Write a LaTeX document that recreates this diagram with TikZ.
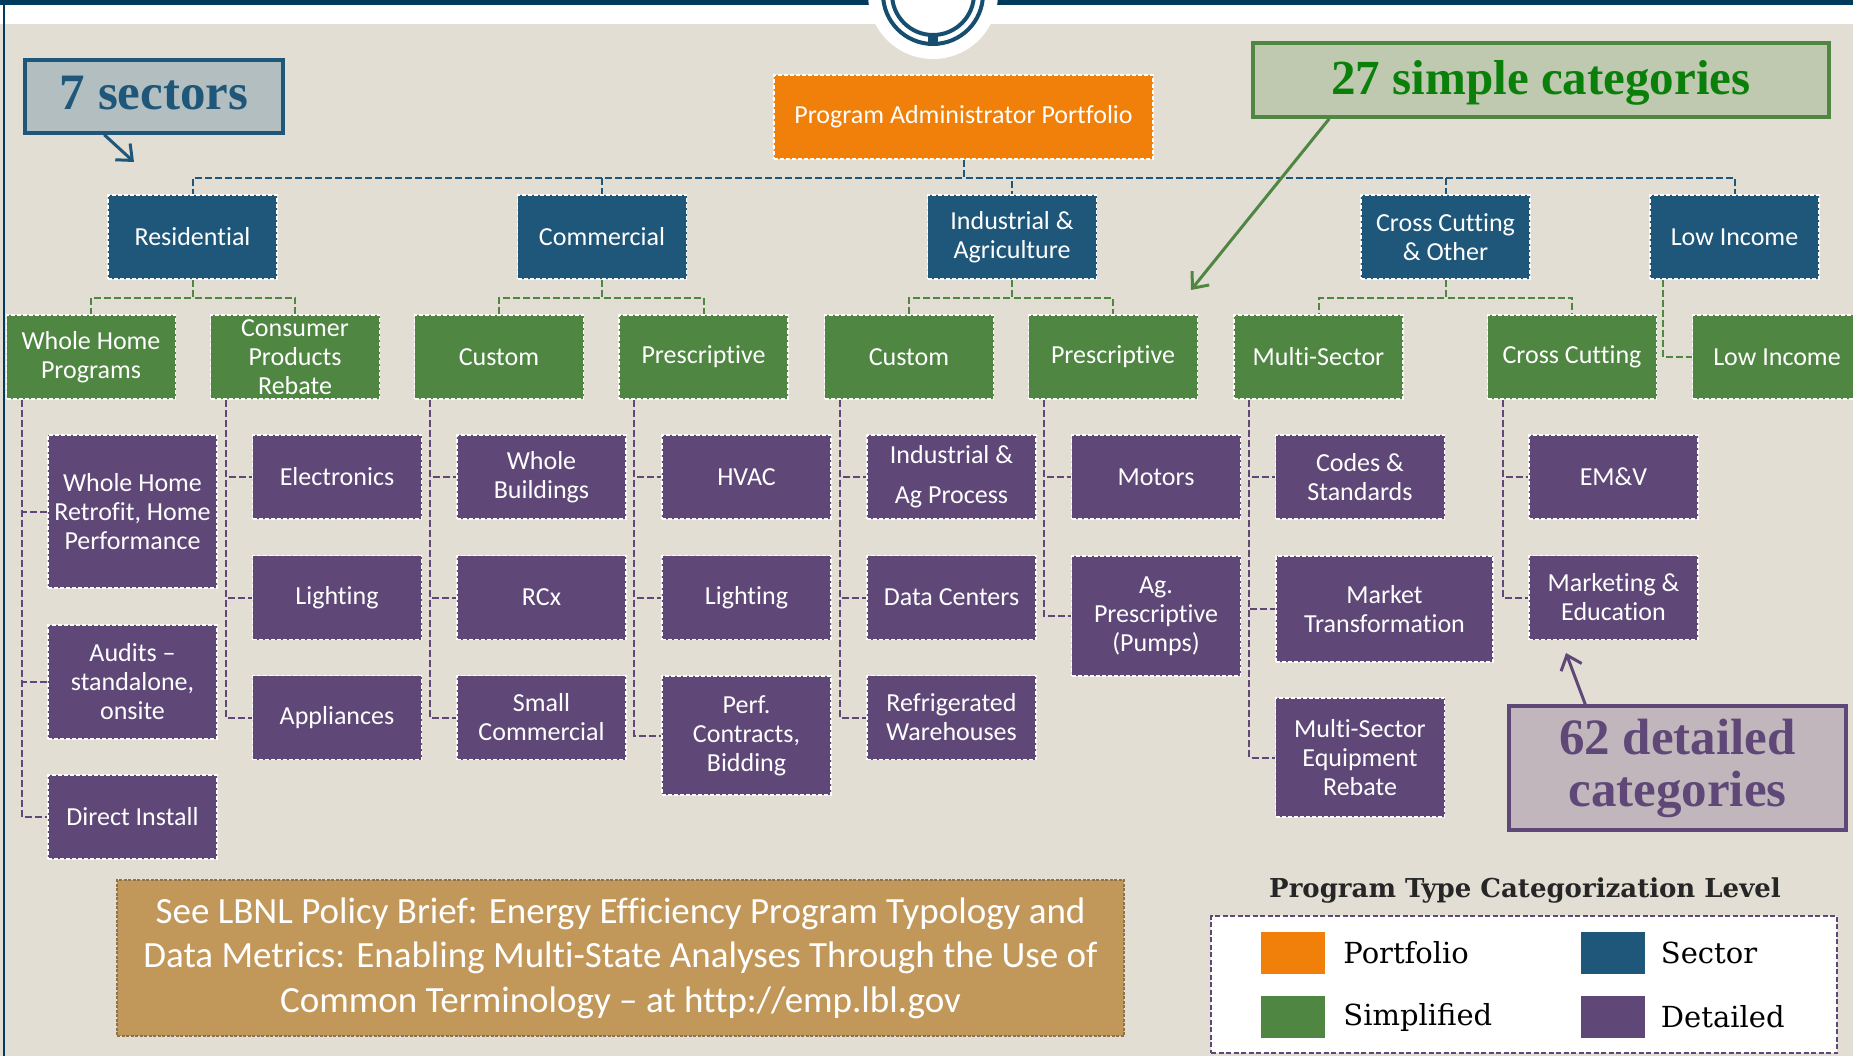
\documentclass[tikz,border=0pt]{standalone}
\usepackage{fontspec}
\newfontfamily\boxfont[Ligatures=NoCommon]{Carlito}
\newfontfamily\headfont{DejaVu Serif}
\newfontfamily\callfont{Liberation Serif}
\usetikzlibrary{arrows.meta,positioning}

\definecolor{bgbeige}{RGB}{227,222,211}
\definecolor{navy}{RGB}{0,58,92}
\definecolor{ringblue}{RGB}{22,78,112}
\definecolor{portorange}{RGB}{240,128,10}
\definecolor{secblue}{RGB}{30,87,122}
\definecolor{simgreen}{RGB}{79,134,65}
\definecolor{detpurple}{RGB}{95,72,120}
\definecolor{brieftan}{RGB}{194,151,90}
\definecolor{briefedge}{RGB}{140,115,75}
\definecolor{sectfill}{RGB}{178,190,191}
\definecolor{simfill}{RGB}{190,201,175}
\definecolor{simtext}{RGB}{10,128,10}
\definecolor{detfill}{RGB}{193,182,188}
\definecolor{titletext}{RGB}{38,38,38}

\begin{document}
\begin{tikzpicture}
            [x=1pt, y=-1pt,
            box/.style={rectangle, draw=white, line width=1.6pt, dash pattern=on 4pt off 2pt,
              text=white, align=center, inner sep=0pt, minimum width=169pt, minimum height=84pt,
              font=\boxfont\fontsize{26}{29}\selectfont},
            port/.style={box, fill=portorange},
            sector/.style={box, fill=secblue},
            simple/.style={box, fill=simgreen},
            detail/.style={box, fill=detpurple},
            busline/.style={secblue, line width=2pt, dash pattern=on 7pt off 3pt},
            simline/.style={simgreen, line width=2pt, dash pattern=on 7pt off 3pt},
            detline/.style={detpurple, line width=2pt, dash pattern=on 7pt off 3pt},
            callout/.style={rectangle, line width=3.5pt, inner sep=0pt, align=center,
              font=\callfont\bfseries\fontsize{51}{52}\selectfont},
            callarrow/.style={line width=3pt, -{Straight Barb[length=13pt,width=22pt]}},
            swatch/.style={rectangle, minimum width=64pt, minimum height=42pt, inner sep=0pt},
            legtext/.style={inner sep=0pt, text=black, font=\headfont\fontsize{29}{32}\selectfont}]

            \useasboundingbox (0,0) rectangle (1853,1056);
            \clip (0,0) rectangle (1853,1056);

            % Page background and header
            \fill[bgbeige] (0,0) rectangle (1853,1056);
            \fill[white] (0,0) rectangle (1853,24);
            \fill[navy] (0,0) rectangle (1853,5);
            \draw[navy, line width=2pt] (4,5) -- (4,1056);
            \fill[white] (933,-6) circle (65pt);
            \draw[ringblue, line width=4pt] (933,-6) circle (50pt) (933,-6) circle (41pt);
            \fill[ringblue] (928,33) rectangle (938,45);

            % Portfolio and sectors
            \node[port, minimum width=379pt] (pap) at (963.5,117) {Program Administrator Portfolio};
            \node[sector] (res) at (192.5,237) {Residential};
            \node[sector] (com) at (602,237) {Commercial};
            \node[sector] (ind) at (1012,237) {Industrial \&\\Agriculture};
            \node[sector] (cco) at (1445.5,237) {Cross Cutting\\\& Other};
            \node[sector] (lis) at (1734.5,237) {Low Income};

            % Simplified categories
            \node[simple] (whp) at (91,357) {Whole Home\\Programs};
            \node[simple] (cpr) at (295,357) {Consumer\\Products\\Rebate};
            \node[simple] (ccu) at (499,357) {Custom};
            \node[simple] (cpe) at (703.5,357) {Prescriptive};
            \node[simple] (icu) at (909,357) {Custom};
            \node[simple] (ipe) at (1113,357) {Prescriptive};
            \node[simple] (msc) at (1318.5,357) {Multi-Sector};
            \node[simple] (ccs) at (1572,357) {Cross Cutting};
            \node[simple] (lin) at (1777,357) {Low Income};

            % Detailed categories
            \node[detail, minimum height=153pt] (whr) at (132.5,511.5) {Whole Home\\Retrofit, Home\\Performance};
            \node[detail, minimum height=114pt] (aud) at (132.5,682) {Audits –\\standalone,\\onsite};
            \node[detail] (dir) at (132.5,817) {Direct Install};
            \node[detail] (ele) at (337,477) {Electronics};
            \node[detail] (rli) at (337,597.5) {Lighting};
            \node[detail] (app) at (337,717.5) {Appliances};
            \node[detail] (whb) at (541.5,477) {Whole\\Buildings};
            \node[detail] (rcx) at (541.5,597.5) {RCx};
            \node[detail] (smc) at (541.5,717.5) {Small\\Commercial};
            \node[detail] (hva) at (746.5,477) {HVAC};
            \node[detail] (cli) at (746.5,597.5) {Lighting};
            \node[detail, minimum height=119pt] (prf) at (746.5,735.5) {Perf.\\Contracts,\\Bidding};
            \node[detail] (iap) at (951.5,477) {Industrial \&\\[11pt]Ag Process};
            \node[detail] (dat) at (951.5,597.5) {Data Centers};
            \node[detail] (ref) at (951.5,717.5) {Refrigerated\\Warehouses};
            \node[detail] (mot) at (1156,477) {Motors};
            \node[detail, minimum height=120pt] (agp) at (1156,616) {Ag.\\Prescriptive\\(Pumps)};
            \node[detail] (cod) at (1360,477) {Codes \&\\Standards};
            \node[detail, minimum width=217pt, minimum height=106pt] (mkt) at (1384.5,609) {Market\\Transformation};
            \node[detail, minimum height=119pt] (mse) at (1360,757.5) {Multi-Sector\\Equipment\\Rebate};
            \node[detail] (emv) at (1613.5,477) {EM\&V};
            \node[detail] (mae) at (1613.5,597.5) {Marketing \&\\Education};

            % Portfolio to sectors
            \draw[busline] (pap.south) -- ++(0,18) -| (res.north);
            \draw[busline] (pap.south) -- ++(0,18) -| (com.north);
            \draw[busline] (pap.south) -- ++(0,18) -| (ind.north);
            \draw[busline] (pap.south) -- ++(0,18) -| (cco.north);
            \draw[busline] (pap.south) -- ++(0,18) -| (lis.north);

            % Sectors to simplified
            \draw[simline] (res.south) -- ++(0,18) -| (whp.north);
            \draw[simline] (res.south) -- ++(0,18) -| (cpr.north);
            \draw[simline] (com.south) -- ++(0,18) -| (ccu.north);
            \draw[simline] (com.south) -- ++(0,18) -| (cpe.north);
            \draw[simline] (ind.south) -- ++(0,18) -| (icu.north);
            \draw[simline] (ind.south) -- ++(0,18) -| (ipe.north);
            \draw[simline] (cco.south) -- ++(0,18) -| (msc.north);
            \draw[simline] (cco.south) -- ++(0,18) -| (ccs.north);
            \draw[simline] ([xshift=14pt]lis.south west) |- (lin.west);

            % Simplified to detailed
            \draw[detline] ([xshift=16pt]whp.south west) |- (whr.west);
            \draw[detline] ([xshift=16pt]whp.south west) |- (aud.west);
            \draw[detline] ([xshift=16pt]whp.south west) |- (dir.west);
            \draw[detline] ([xshift=16pt]cpr.south west) |- (ele.west);
            \draw[detline] ([xshift=16pt]cpr.south west) |- (rli.west);
            \draw[detline] ([xshift=16pt]cpr.south west) |- (app.west);
            \draw[detline] ([xshift=16pt]ccu.south west) |- (whb.west);
            \draw[detline] ([xshift=16pt]ccu.south west) |- (rcx.west);
            \draw[detline] ([xshift=16pt]ccu.south west) |- (smc.west);
            \draw[detline] ([xshift=16pt]cpe.south west) |- (hva.west);
            \draw[detline] ([xshift=16pt]cpe.south west) |- (cli.west);
            \draw[detline] ([xshift=16pt]cpe.south west) |- (prf.west);
            \draw[detline] ([xshift=16pt]icu.south west) |- (iap.west);
            \draw[detline] ([xshift=16pt]icu.south west) |- (dat.west);
            \draw[detline] ([xshift=16pt]icu.south west) |- (ref.west);
            \draw[detline] ([xshift=16pt]ipe.south west) |- (mot.west);
            \draw[detline] ([xshift=16pt]ipe.south west) |- (agp.west);
            \draw[detline] ([xshift=16pt]msc.south west) |- (cod.west);
            \draw[detline] ([xshift=16pt]msc.south west) |- (mkt.west);
            \draw[detline] ([xshift=16pt]msc.south west) |- (mse.west);
            \draw[detline] ([xshift=16pt]ccs.south west) |- (emv.west);
            \draw[detline] ([xshift=16pt]ccs.south west) |- (mae.west);

            % Callouts with their arrows
            \node[callout, fill=sectfill, draw=secblue, text=secblue, minimum width=258pt, minimum height=73pt,
              text height=27pt, text depth=0pt] (sectors) at (154,96.5) {7 sectors};
            \node[callout, fill=simfill, draw=simgreen, text=simtext, minimum width=576pt, minimum height=74pt,
              text height=30pt, text depth=0pt,
              font=\callfont\bfseries\fontsize{49}{52}\selectfont] (simcats) at (1541,80) {27 simple categories};
            \node[callout, fill=detfill, draw=detpurple, text=detpurple, minimum width=337pt, minimum height=124pt] (detcats) at (1677.5,768) {62 detailed\\categories};
            \coordinate (sectip) at (134,162);
            \coordinate (simtip) at (1191,290);
            \coordinate (dettip) at (1566,653);
            \draw[callarrow, secblue] ([xshift=81pt]sectors.south west) -- (sectip);
            \draw[callarrow, simgreen] ([xshift=78pt]simcats.south west) -- (simtip);
            \draw[callarrow, detpurple] ([xshift=78pt]detcats.north west) -- (dettip);

            % Reference note
            \node[rectangle, fill=brieftan, draw=briefedge, line width=1.5pt, dash pattern=on 3pt off 1.5pt,
              minimum width=1007pt, minimum height=156pt, text=white, align=center,
              font=\boxfont\fontsize{37}{44.5}\selectfont] (brief) at (620.5,958)
              {See LBNL Policy Brief: Energy Efficiency Program Typology and\\Data Metrics: Enabling Multi-State Analyses Through the Use of\\Common Terminology – at http://emp.lbl.gov};

            % Legend
            \node[text=titletext, inner sep=0pt, font=\headfont\bfseries\fontsize{26}{30}\selectfont] (legtitle) at (1525,891) {Program Type Categorization Level};
            \node[rectangle, draw=detpurple, fill=white, line width=2pt, dash pattern=on 5pt off 2.5pt,
              minimum width=626pt, minimum height=137pt] (legbox) at (1524,984.5) {};
            \node[swatch, fill=portorange] (swport) at (1293,953) {};
            \node[swatch, fill=secblue] (swsec) at (1612.5,953) {};
            \node[swatch, fill=simgreen] (swsimp) at (1293,1017) {};
            \node[swatch, fill=detpurple] (swdet) at (1612.5,1017) {};
            \node[legtext, right=18pt of swport] (lport) {Portfolio};
            \node[legtext, right=16pt of swsec] (lsec) {Sector};
            \node[legtext, right=18pt of swsimp] (lsimp) {Simplified};
            \node[legtext, right=16pt of swdet] (ldet) {Detailed};

        \end{tikzpicture}
\end{document}
